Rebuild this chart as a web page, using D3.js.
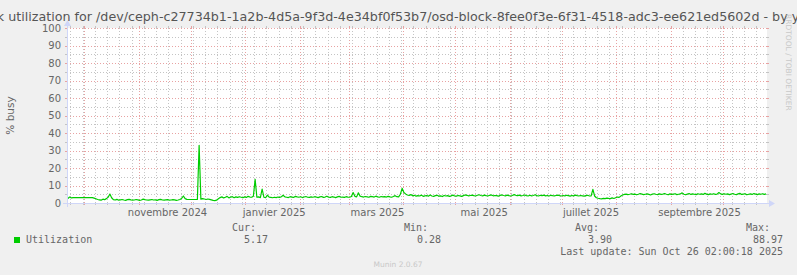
<!DOCTYPE html>
<html>
<head>
<meta charset="utf-8">
<script src="https://cdn.jsdelivr.net/npm/d3@7"></script>
<style>
  body { margin: 0; background: #f0f0f0; }
  svg text { font-family: "DejaVu Sans", sans-serif; }
</style>
</head>
<body>
<div id="chart"></div>
<script>
var width = 797;
var height = 275;
var plotLeft = 67, plotRight = 767, plotTop = 28, plotBottom = 203;

// graph period (munin "by year" = 400 days)
var periodStart = "2024-09-21T02:00:18Z";
var periodEnd = "2025-10-26T02:00:18Z";

// daily averages of % busy, one value per day
var utilization = [
  2.6, 3.4, 2.9, 3.1, 3.1, 3.1, 3.1, 3.1, 3.1, 3.1, 3.1, 3.1, 3.1, 3.1, 3.1, 2.8, 2.4, 2.0, 1.8, 1.6,
  2.2, 1.9, 2.5, 3.3, 5.1, 3.0, 1.9, 1.7, 2.1, 1.6, 1.8, 2.0, 1.7, 1.5, 1.9, 2.1, 1.8, 1.6, 1.7, 2.0,
  1.8, 1.5, 1.7, 2.2, 1.9, 1.7, 1.6, 1.8, 2.0, 1.7, 1.8, 1.5, 1.9, 2.1, 1.7, 1.6, 1.8, 1.9, 1.6, 1.7,
  1.9, 1.8, 1.5, 1.7, 2.0, 2.6, 4.0, 2.5, 2.1, 2.0, 2.0, 2.0, 2.0, 2.0, 2.0, 33.0, 2.2, 2.5, 2.3, 2.0,
  2.3, 2.1, 1.8, 1.5, 1.4, 1.6, 2.4, 3.1, 3.5, 2.9, 3.3, 3.8, 2.9, 3.4, 3.6, 3.0, 3.5, 3.2, 3.6, 3.3,
  3.0, 3.5, 3.2, 3.8, 3.4, 3.3, 3.9, 13.5, 3.3, 3.5, 3.1, 8.0, 3.3, 3.0, 4.5, 3.4, 3.2, 3.0, 3.3, 3.1,
  3.4, 3.2, 3.6, 4.4, 3.5, 3.3, 3.1, 3.6, 3.4, 3.2, 3.8, 3.5, 3.3, 3.6, 3.1, 3.4, 3.7, 3.3, 3.2, 3.5,
  3.3, 3.6, 3.4, 3.1, 3.5, 3.7, 3.2, 3.4, 3.9, 3.3, 3.2, 3.6, 3.4, 3.1, 3.5, 3.8, 3.3, 3.4, 3.2, 3.6,
  3.4, 3.3, 3.7, 6.0, 3.8, 3.5, 5.8, 3.9, 3.6, 3.4, 3.7, 3.5, 3.3, 3.8, 3.6, 3.4, 3.9, 3.5, 3.3, 3.7,
  3.5, 3.6, 3.4, 3.8, 3.5, 3.3, 3.7, 4.2, 3.6, 3.5, 5.0, 8.4, 6.0, 5.2, 4.6, 4.3, 4.8, 4.1, 4.4, 3.9,
  4.2, 4.0, 4.5, 3.8, 4.1, 4.3, 3.9, 4.6, 4.0, 3.8, 4.2, 4.4, 3.9, 4.1, 3.7, 4.3, 4.0, 4.2, 3.8, 4.1,
  4.5, 4.0, 3.9, 4.3, 4.1, 3.8, 4.2, 4.6, 4.4, 4.1, 4.3, 4.5, 4.2, 4.0, 4.4, 4.7, 4.3, 4.1, 4.5, 4.2,
  4.0, 4.4, 4.6, 4.1, 4.3, 4.2, 3.9, 4.4, 4.6, 4.3, 4.1, 4.5, 4.2, 4.0, 4.3, 4.8, 4.4, 4.2, 4.5, 4.1,
  4.3, 4.6, 4.2, 4.0, 4.4, 4.1, 4.3, 4.7, 4.2, 4.0, 4.4, 4.2, 4.5, 4.1, 4.3, 4.0, 4.4, 4.2, 4.1, 4.3,
  4.5, 4.2, 4.0, 4.3, 4.1, 4.4, 4.2, 3.9, 4.3, 4.1, 4.5, 4.2, 4.0, 4.3, 4.1, 3.9, 4.2, 4.4, 4.0, 4.1,
  7.8, 4.0, 3.0, 2.7, 2.5, 2.4, 2.6, 2.5, 2.8, 2.6, 2.5, 2.9, 2.6, 3.0, 3.4, 3.2, 4.0, 4.6, 4.9, 5.1,
  4.8, 5.0, 5.3, 4.9, 5.1, 4.7, 5.0, 5.4, 5.1, 4.8, 5.0, 5.2, 4.9, 4.6, 5.1, 5.3, 5.0, 4.8, 5.2, 4.9,
  5.1, 5.4, 5.0, 4.7, 5.2, 4.9, 5.1, 5.3, 4.8, 5.0, 5.2, 5.8, 5.0, 4.7, 5.1, 5.4, 4.9, 5.2, 5.0, 4.8,
  5.3, 5.0, 5.2, 4.9, 5.5, 5.1, 4.8, 5.2, 5.0, 5.3, 4.9, 5.1, 6.0, 5.2, 4.9, 5.3, 5.0, 5.2, 4.8, 5.1,
  5.4, 5.0, 4.8, 5.2, 5.5, 4.9, 5.1, 5.3, 4.7, 5.0, 5.2, 4.9, 5.4, 5.1, 4.8, 5.2, 5.0, 5.3, 4.9, 5.2
];

var yTicks = [0, 10, 20, 30, 40, 50, 60, 70, 80, 90, 100];
var yMinorTicks = [5, 15, 25, 35, 45, 55, 65, 75, 85, 95];
var monthLabels = ["novembre 2024", "janvier 2025", "mars 2025", "mai 2025", "juillet 2025", "septembre 2025"];
var monthLabelStarts = ["2024-11-01", "2025-01-01", "2025-03-01", "2025-05-01", "2025-07-01", "2025-09-01"];

var titleText = "Disk utilization for /dev/ceph-c27734b1-1a2b-4d5a-9f3d-4e34bf0f53b7/osd-block-8fee0f3e-6f31-4518-adc3-ee621ed5602d - by year";
var seriesName = "Utilization";
var statNames = ["Cur:", "Min:", "Avg:", "Max:"];
var statValues = ["5.17", "0.28", "3.90", "88.97"];
var lastUpdate = "Last update: Sun Oct 26 02:00:18 2025";

var t0 = new Date(periodStart), t1 = new Date(periodEnd);
var points = utilization.map(function (v, i) {
  return { date: d3.utcHour.offset(d3.utcDay.offset(t0, i), 12), value: v };
});

var xScale = d3.scaleUtc().domain([t0, t1]).range([plotLeft, plotRight]);
var yScale = d3.scaleLinear().domain([0, 100]).range([plotBottom, plotTop]);

var svg = d3.select('#chart').append('svg')
  .attr('width', width)
  .attr('height', height)
  .style('display', 'block')
  .style('background', '#f0f0f0');

// white canvas
svg.append('rect')
  .attr('x', plotLeft).attr('y', plotTop)
  .attr('width', plotRight - plotLeft).attr('height', plotBottom - plotTop)
  .attr('fill', '#ffffff');

var grid = svg.append('g').attr('shape-rendering', 'crispEdges');
var minorColor = '#c4c4c4';
var majorColor = '#e8a2a2';

// vertical grid: weeks (minor) and months (major)
function vLines(dates, color) {
  dates.forEach(function (d) {
    var x = Math.round(xScale(d)) + 0.5;
    grid.append('line').attr('x1', x).attr('x2', x).attr('y1', plotTop).attr('y2', plotBottom)
      .attr('stroke', color).attr('stroke-dasharray', '1,2');
    grid.append('line').attr('x1', x).attr('x2', x).attr('y1', plotBottom).attr('y2', plotBottom + 2)
      .attr('stroke', color);
    grid.append('line').attr('x1', x).attr('x2', x).attr('y1', plotTop - 2).attr('y2', plotTop)
      .attr('stroke', color);
  });
}
vLines(d3.utcMonday.range(t0, t1), minorColor);
vLines(d3.utcMonth.range(t0, t1), majorColor);

// horizontal grid
function hLines(values, color) {
  values.forEach(function (v) {
    var y = Math.round(yScale(v)) + 0.5;
    grid.append('line').attr('x1', plotLeft).attr('x2', plotRight).attr('y1', y).attr('y2', y)
      .attr('stroke', color).attr('stroke-dasharray', '1,2');
    grid.append('line').attr('x1', plotLeft - 2).attr('x2', plotLeft).attr('y1', y).attr('y2', y)
      .attr('stroke', color);
    grid.append('line').attr('x1', plotRight).attr('x2', plotRight + 2).attr('y1', y).attr('y2', y)
      .attr('stroke', color);
  });
}
hLines(yMinorTicks, minorColor);
hLines(yTicks.filter(function (v) { return v > 0; }), majorColor);

// the series
var line = d3.line()
  .x(function (d) { return xScale(d.date); })
  .y(function (d) { return yScale(d.value); });

svg.append('path')
  .datum(points)
  .attr('d', line)
  .attr('fill', 'none')
  .attr('stroke', '#00cc00')
  .attr('stroke-width', 1.2)
  .attr('stroke-linejoin', 'round');

// axes with arrows
var axisColor = '#cfd6f8';
svg.append('line')
  .attr('x1', plotLeft - 4).attr('x2', plotRight + 4)
  .attr('y1', plotBottom + 0.5).attr('y2', plotBottom + 0.5)
  .attr('stroke', axisColor);
svg.append('line')
  .attr('x1', plotLeft + 0.5).attr('x2', plotLeft + 0.5)
  .attr('y1', plotBottom + 4).attr('y2', plotTop - 4)
  .attr('stroke', axisColor);
svg.append('path')
  .attr('d', 'M' + (plotRight + 2) + ',' + (plotBottom - 3) + 'L' + (plotRight + 2) + ',' + (plotBottom + 4) +
    'L' + (plotRight + 8) + ',' + (plotBottom + 0.5) + 'Z')
  .attr('fill', axisColor);
svg.append('path')
  .attr('d', 'M' + (plotLeft - 3) + ',' + (plotTop - 2) + 'L' + (plotLeft + 4) + ',' + (plotTop - 2) +
    'L' + (plotLeft + 0.5) + ',' + (plotTop - 8) + 'Z')
  .attr('fill', axisColor);

// y tick labels
svg.append('g').selectAll('text')
  .data(yTicks)
  .enter()
  .append('text')
    .attr('x', plotLeft - 6)
    .attr('y', function (d) { return yScale(d) + 3.5; })
    .attr('text-anchor', 'end')
    .attr('font-size', '10px')
    .attr('fill', '#666')
    .text(function (d) { return d; });

// x labels, centred about half a month after the month start
svg.append('g').selectAll('text')
  .data(monthLabels)
  .enter()
  .append('text')
    .attr('x', function (d, i) {
      var m = new Date(monthLabelStarts[i] + 'T00:00:00Z');
      return xScale(d3.utcHour.offset(m, 16.5 * 24));
    })
    .attr('y', 216)
    .attr('text-anchor', 'middle')
    .attr('font-size', '10px')
    .attr('fill', '#666')
    .text(function (d) { return d; });

// title (wider than the image, clipped on both sides like the original)
svg.append('text')
  .attr('x', width / 2)
  .attr('y', 21)
  .attr('text-anchor', 'middle')
  .attr('font-size', '12.7px')
  .attr('fill', '#555')
  .text(titleText);

// y axis title
svg.append('text')
  .attr('transform', 'translate(14,' + ((plotTop + plotBottom) / 2) + ') rotate(-90)')
  .attr('text-anchor', 'middle')
  .attr('font-size', '10.5px')
  .attr('fill', '#666')
  .text('% busy');

// rrdtool watermark
svg.append('text')
  .attr('transform', 'translate(786,14) rotate(90)')
  .attr('font-size', '7.5px')
  .attr('fill', '#c8c8c8')
  .text('RRDTOOL / TOBI OETIKER');

// legend
var mono = '"DejaVu Sans Mono", monospace';
svg.append('rect')
  .attr('x', 14).attr('y', 237).attr('width', 6).attr('height', 6)
  .attr('fill', '#00cc00');
svg.append('text')
  .attr('x', 26).attr('y', 243)
  .style('font-family', mono).attr('font-size', '10px').attr('fill', '#666')
  .text(seriesName);

var headRight = [256, 428, 599, 770];
var valueRight = [268, 441, 612, 783];
statNames.forEach(function (name, i) {
  svg.append('text')
    .attr('x', headRight[i]).attr('y', 231)
    .attr('text-anchor', 'end')
    .style('font-family', mono).attr('font-size', '10px').attr('fill', '#666')
    .text(name);
  svg.append('text')
    .attr('x', valueRight[i]).attr('y', 243)
    .attr('text-anchor', 'end')
    .style('font-family', mono).attr('font-size', '10px').attr('fill', '#666')
    .text(statValues[i]);
});

svg.append('text')
  .attr('x', 783).attr('y', 255)
  .attr('text-anchor', 'end')
  .style('font-family', mono).attr('font-size', '10px').attr('fill', '#666')
  .text(lastUpdate);

svg.append('text')
  .attr('x', 398).attr('y', 267)
  .attr('text-anchor', 'middle')
  .attr('font-size', '7.5px')
  .attr('fill', '#c8c8c8')
  .text('Munin 2.0.67');
</script>
</body>
</html>
